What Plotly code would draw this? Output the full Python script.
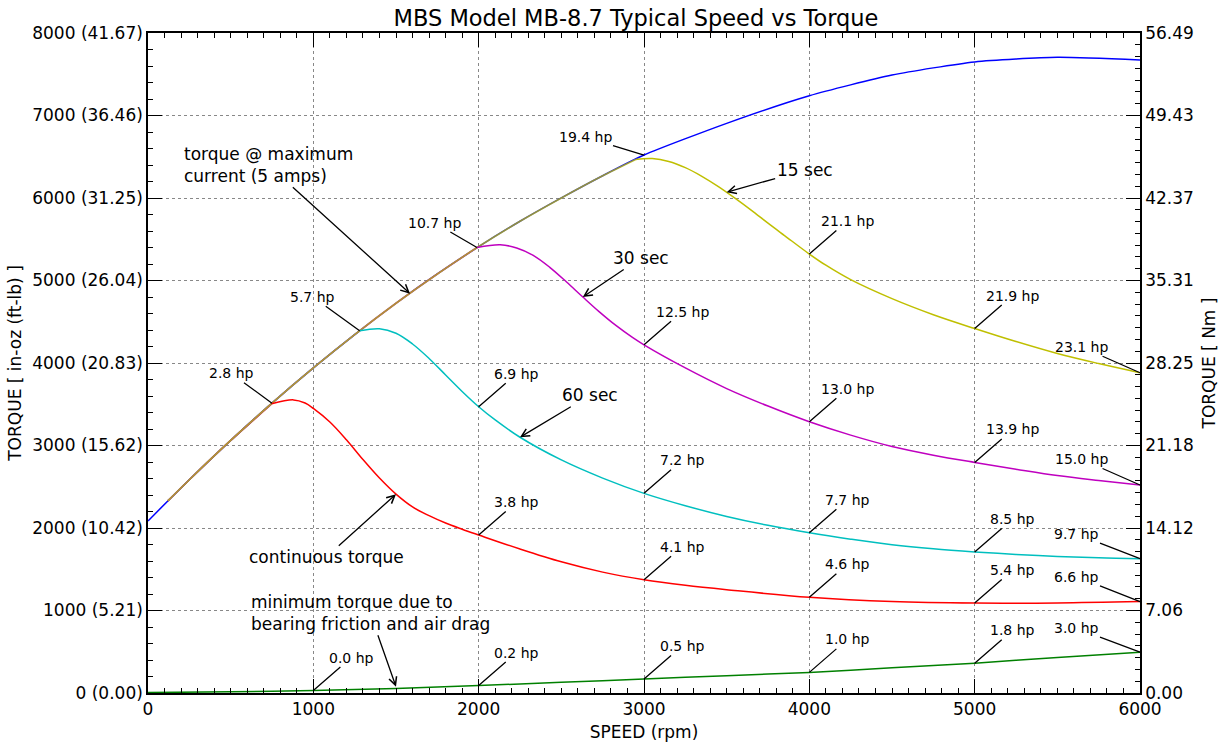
import plotly.graph_objects as go

# ---------------- data ----------------
blue_rpm = [0, 120, 250, 500, 750, 1000, 1250, 1500, 1750, 2000, 2250, 2500, 2750,
            3000, 3500, 4000, 4500, 5000, 5500, 6000]
blue_torque = [2085, 2328, 2585, 3061, 3513, 3940, 4344, 4724, 5079, 5411, 5718, 6001, 6270,
               6521, 6905, 7240, 7490, 7650, 7705, 7673]

red_rpm = [748, 880, 950, 1000, 1100, 1200, 1300, 1400, 1500, 1600, 1700, 1800, 1900, 2000,
           2250, 2500, 2750, 3000, 3250, 3500, 4000, 4500, 5000, 5500, 6000]
red_torque = [3505, 3553, 3515, 3450, 3285, 3070, 2830, 2605, 2410, 2255, 2150, 2060, 1985, 1915,
              1745, 1590, 1465, 1372, 1305, 1252, 1160, 1108, 1090, 1092, 1108]

cyan_rpm = [1280, 1400, 1500, 1600, 1700, 1800, 1900, 2000, 2100, 2250, 2500, 2750, 3000,
            3250, 3500, 3750, 4000, 4250, 4500, 4750, 5000, 5250, 5500, 5750, 6000]
cyan_torque = [4390, 4415, 4360, 4230, 4055, 3855, 3655, 3470, 3310, 3100, 2825, 2605, 2420,
               2270, 2140, 2032, 1942, 1865, 1797, 1747, 1710, 1680, 1655, 1638, 1628]

mag_rpm = [1990, 2130, 2230, 2330, 2430, 2530, 2630, 2730, 2830, 2930, 3000, 3250, 3500,
           3750, 4000, 4250, 4500, 4750, 5000, 5250, 5500, 5750, 6000]
mag_torque = [5400, 5432, 5395, 5305, 5160, 4985, 4800, 4620, 4455, 4310, 4220, 3940, 3690,
              3478, 3288, 3126, 2988, 2883, 2795, 2713, 2635, 2575, 2521]

yel_rpm = [2950, 3050, 3150, 3250, 3350, 3450, 3550, 3650, 3750, 3850, 4000, 4100, 4250,
           4500, 4750, 5000, 5250, 5500, 5750, 6000]
yel_torque = [6468, 6478, 6443, 6368, 6263, 6138, 5998, 5850, 5695, 5545, 5321, 5185, 5010,
              4780, 4585, 4418, 4260, 4115, 3993, 3882]

green_rpm = [0, 500, 1000, 1500, 2000, 2500, 3000, 3500, 4000, 4500, 5000, 5500, 6000]
green_torque = [5, 15, 30, 55, 90, 130, 170, 210, 250, 305, 362, 430, 495]

x_ticks = [0, 1000, 2000, 3000, 4000, 5000, 6000]
y_ticks = [0, 1000, 2000, 3000, 4000, 5000, 6000, 7000, 8000]
y_left_labels = ["0 (0.00)", "1000 (5.21)", "2000 (10.42)", "3000 (15.62)", "4000 (20.83)",
                 "5000 (26.04)", "6000 (31.25)", "7000 (36.46)", "8000 (41.67)"]
y_right_labels = ["0.00", "7.06", "14.12", "21.18", "28.25", "35.31", "42.37", "49.43", "56.49"]

FONT = "DejaVu Sans"


def at(xs, ys, r):
    return ys[xs.index(r)]


fig = go.Figure()

# max current envelope
fig.add_trace(go.Scatter(x=blue_rpm, y=blue_torque, mode="lines",
                         line=dict(color="#0000ff", width=1.5, shape="spline", smoothing=0.6),
                         hoverinfo="skip", showlegend=False))
# minimum torque
fig.add_trace(go.Scatter(x=green_rpm, y=green_torque, mode="lines",
                         line=dict(color="#008000", width=1.5, shape="spline", smoothing=0.6),
                         hoverinfo="skip", showlegend=False))

curves = [
    (red_rpm, red_torque, (255, 0, 0)),
    (cyan_rpm, cyan_torque, (0, 191, 191)),
    (mag_rpm, mag_torque, (191, 0, 191)),
    (yel_rpm, yel_torque, (191, 191, 0)),
]
# shared segments where derated curves run along the max-current envelope
for xs, ys, c in curves:
    lx = [r for r in blue_rpm if 120 <= r < xs[0]] + [xs[0]]
    ly = [t for r, t in zip(blue_rpm, blue_torque) if 120 <= r < xs[0]] + [ys[0]]
    fig.add_trace(go.Scatter(x=lx, y=ly, mode="lines",
                             line=dict(color=f"rgba({c[0]},{c[1]},{c[2]},0.75)", width=1.7,
                                       shape="spline", smoothing=0.6),
                             hoverinfo="skip", showlegend=False))
for xs, ys, c in curves:
    fig.add_trace(go.Scatter(x=xs, y=ys, mode="lines",
                             line=dict(color=f"rgb({c[0]},{c[1]},{c[2]})", width=1.5,
                                       shape="spline", smoothing=1.0),
                             hoverinfo="skip", showlegend=False))

# invisible trace to anchor the right-hand (Nm) axis
fig.add_trace(go.Scatter(x=[green_rpm[0]], y=[green_torque[0]], yaxis="y2", mode="markers",
                         marker=dict(opacity=0), hoverinfo="skip", showlegend=False))

# ---------------- annotations ----------------
G = (38, -33)
hp_labels = [
    ("2.8 hp", 750, at(blue_rpm, blue_torque, 750), -41, -30),
    ("5.7 hp", cyan_rpm[0], cyan_torque[0], -47, -34),
    ("10.7 hp", mag_rpm[0], mag_torque[0], -43, -25),
    ("19.4 hp", 3000, at(blue_rpm, blue_torque, 3000), -59, -18),
    ("21.1 hp", 4000, at(yel_rpm, yel_torque, 4000), *G),
    ("21.9 hp", 5000, at(yel_rpm, yel_torque, 5000), *G),
    ("23.1 hp", 6000, at(yel_rpm, yel_torque, 6000), -59, -26),
    ("12.5 hp", 3000, at(mag_rpm, mag_torque, 3000), *G),
    ("13.0 hp", 4000, at(mag_rpm, mag_torque, 4000), *G),
    ("13.9 hp", 5000, at(mag_rpm, mag_torque, 5000), *G),
    ("15.0 hp", 6000, at(mag_rpm, mag_torque, 6000), -59, -26),
    ("6.9 hp", 2000, at(cyan_rpm, cyan_torque, 2000), *G),
    ("7.2 hp", 3000, at(cyan_rpm, cyan_torque, 3000), *G),
    ("7.7 hp", 4000, at(cyan_rpm, cyan_torque, 4000), *G),
    ("8.5 hp", 5000, at(cyan_rpm, cyan_torque, 5000), *G),
    ("9.7 hp", 6000, at(cyan_rpm, cyan_torque, 6000), -64, -25),
    ("3.8 hp", 2000, at(red_rpm, red_torque, 2000), *G),
    ("4.1 hp", 3000, at(red_rpm, red_torque, 3000), *G),
    ("4.6 hp", 4000, at(red_rpm, red_torque, 4000), *G),
    ("5.4 hp", 5000, at(red_rpm, red_torque, 5000), *G),
    ("6.6 hp", 6000, at(red_rpm, red_torque, 6000), -64, -25),
    ("0.0 hp", 1000, at(green_rpm, green_torque, 1000), *G),
    ("0.2 hp", 2000, at(green_rpm, green_torque, 2000), *G),
    ("0.5 hp", 3000, at(green_rpm, green_torque, 3000), *G),
    ("1.0 hp", 4000, at(green_rpm, green_torque, 4000), *G),
    ("1.8 hp", 5000, at(green_rpm, green_torque, 5000), *G),
    ("3.0 hp", 6000, at(green_rpm, green_torque, 6000), -64, -24),
]
for txt, x, y, ax, ay in hp_labels:
    fig.add_annotation(x=x, y=y, ax=ax, ay=ay, text=txt, showarrow=True, arrowhead=0,
                       arrowwidth=1.3, arrowcolor="black", standoff=0,
                       font=dict(family=FONT, size=14, color="black"))

big_labels = [
    ("15 sec", 3500, 6070, 78, -22, "center"),
    ("30 sec", 2630, at(mag_rpm, mag_torque, 2630), 58, -39, "center"),
    ("60 sec", 2250, at(cyan_rpm, cyan_torque, 2250), 70, -42, "center"),
    ("torque @ maximum<br>current (5 amps)", 1585, 4840, -142, -129, "left"),
    ("continuous torque", 1500, at(red_rpm, red_torque, 1500), -70, 63, "center"),
    ("minimum torque due to<br>bearing friction and air drag", 1500, 76, -26, -74, "left"),
]
for txt, x, y, ax, ay, al in big_labels:
    fig.add_annotation(x=x, y=y, ax=ax, ay=ay, text=txt, showarrow=True, arrowhead=5,
                       arrowsize=1.2, arrowwidth=1.3, arrowcolor="black", align=al,
                       font=dict(family=FONT, size=17, color="black"))

# ---------------- layout ----------------
axis_common = dict(showline=True, linecolor="black", linewidth=1.5, ticks="inside",
                   ticklen=14, tickwidth=1.3, tickcolor="black", automargin=False,
                   tickfont=dict(family=FONT, size=17, color="black"), zeroline=False)

fig.update_layout(
    width=1225, height=742,
    margin=dict(l=148, r=85, t=33, b=49, autoexpand=False),
    paper_bgcolor="white", plot_bgcolor="white",
    font=dict(family=FONT, color="black"),
    title=dict(text="MBS Model MB-8.7 Typical Speed vs Torque", x=636 / 1225, xref="container",
               xanchor="center", y=1 - 18 / 742, yref="container", yanchor="middle",
               font=dict(family=FONT, size=22.5, color="black")),
    xaxis=dict(range=[0, 6000], tickmode="array", tickvals=x_ticks, mirror="ticks",
               showgrid=True, gridcolor="#888888", griddash="dot", gridwidth=1,
               minor=dict(tickmode="linear", tick0=0, dtick=100, ticks="inside", ticklen=5,
                          tickwidth=1.2, tickcolor="black", showgrid=False),
               title=dict(text="SPEED (rpm)", font=dict(family=FONT, size=17, color="black"),
                          standoff=8),
               **axis_common),
    yaxis=dict(range=[0, 8000], tickmode="array", tickvals=y_ticks, ticktext=y_left_labels,
               showgrid=True, gridcolor="#888888", griddash="dot", gridwidth=1,
               minor=dict(tickmode="linear", tick0=0, dtick=200, ticks="inside", ticklen=5,
                          tickwidth=1.2, tickcolor="black", showgrid=False),
               title=dict(text="TORQUE [ in-oz (ft-lb) ]",
                          font=dict(family=FONT, size=17, color="black"), standoff=6),
               **axis_common),
    yaxis2=dict(range=[0, 8000], overlaying="y", side="right", tickmode="array",
                tickvals=y_ticks, ticktext=y_right_labels, showgrid=False,
                minor=dict(tickmode="linear", tick0=0, dtick=1000 / 7, ticks="inside",
                           ticklen=5, tickwidth=1.2, tickcolor="black", showgrid=False),
                title=dict(text="TORQUE [ Nm ]", font=dict(family=FONT, size=17, color="black"),
                           standoff=10),
                **axis_common),
)

fig.write_html("out.html", config={"displayModeBar": False},
               post_script="document.body.style.margin='0';document.body.style.overflow='hidden';")
